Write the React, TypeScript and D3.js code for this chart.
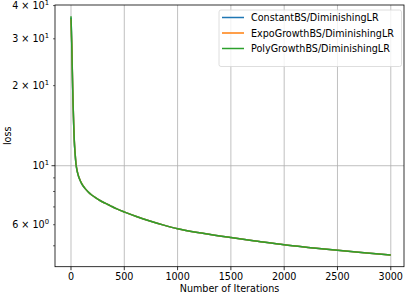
import React from "react";
import * as d3 from "d3";

const iterations = [0, 4, 8, 12, 16, 20, 25, 31, 38, 47, 59, 70, 84, 100, 131, 160, 194, 230, 272, 320, 366, 430, 504, 620, 740, 870, 1000, 1250, 1500, 1750, 2000, 2250, 2500, 2750, 3000];
const constantLoss = [36.0, 32.3, 27.8, 23.2, 19.6, 16.9, 14.4, 12.4, 11.2, 10.15, 9.5, 9.15, 8.84, 8.57, 8.22, 7.98, 7.76, 7.58, 7.40, 7.23, 7.08, 6.88, 6.69, 6.43, 6.20, 5.98, 5.79, 5.56, 5.37, 5.20, 5.04, 4.92, 4.81, 4.71, 4.62];
const expoLoss = [35.6, 31.0, 28.4, 23.6, 19.8, 17.0, 14.5, 12.5, 11.25, 10.18, 9.52, 9.16, 8.85, 8.58, 8.22, 7.98, 7.76, 7.58, 7.40, 7.23, 7.08, 6.88, 6.69, 6.43, 6.20, 5.98, 5.79, 5.56, 5.37, 5.20, 5.04, 4.92, 4.81, 4.71, 4.62];
const polyLoss = [36.5, 32.0, 27.5, 23.0, 19.5, 16.8, 14.4, 12.4, 11.2, 10.15, 9.5, 9.15, 8.84, 8.57, 8.22, 7.98, 7.76, 7.58, 7.40, 7.23, 7.08, 6.88, 6.69, 6.43, 6.20, 5.98, 5.79, 5.56, 5.37, 5.20, 5.04, 4.92, 4.81, 4.71, 4.62];

const seriesNames = ["ConstantBS/DiminishingLR", "ExpoGrowthBS/DiminishingLR", "PolyGrowthBS/DiminishingLR"];
const seriesColors = ["#1f77b4", "#ff7f0e", "#2ca02c"];
const seriesValues = [constantLoss, expoLoss, polyLoss];

const xTicks = [0, 500, 1000, 1500, 2000, 2500, 3000];
// [value, mantissa, exponent] ; mantissa null => plain 10^e
const yLabeled: [number, number | null, number][] = [
  [40, 4, 1],
  [30, 3, 1],
  [20, 2, 1],
  [10, null, 1],
  [6, 6, 0],
];
const yMinorOnly = [5, 7, 8, 9];

const W = 407;
const H = 295;
const left = 55;
const right = 404;
const top = 5;
const bottom = 266.7;
const font = "DejaVu Sans, sans-serif";
const fs = 9.6;

export default function App() {
  const x = d3.scaleLinear().domain([-150, 3124]).range([left, right]);
  const y = d3.scaleLog().domain([4.172, 40.2]).range([bottom, top]);

  const line = d3
    .line<number>()
    .x((_, i) => x(iterations[i]))
    .y((d) => y(d))
    .curve(d3.curveMonotoneX);

  return (
    <div style={{ position: "fixed", left: 0, top: 0 }}>
      <svg width={W} height={H} style={{ display: "block", background: "#fff" }} fontFamily={font}>
        {/* grid */}
        {xTicks.map((t) => (
          <line key={"gx" + t} x1={x(t)} x2={x(t)} y1={top} y2={bottom} stroke="#b0b0b0" strokeWidth={0.8} />
        ))}
        <line x1={left} x2={right} y1={y(10)} y2={y(10)} stroke="#b0b0b0" strokeWidth={0.8} />

        {/* series */}
        {seriesValues.map((vals, k) => (
          <path key={k} d={line(vals) || ""} fill="none" stroke={seriesColors[k]} strokeWidth={1.5} strokeLinejoin="round" />
        ))}

        {/* frame */}
        <rect x={left} y={top} width={right - left} height={bottom - top} fill="none" stroke="#000" strokeWidth={0.8} />

        {/* x ticks */}
        {xTicks.map((t) => (
          <g key={"xt" + t}>
            <line x1={x(t)} x2={x(t)} y1={bottom} y2={bottom + 3.5} stroke="#000" strokeWidth={0.8} />
            <text x={x(t)} y={bottom + 13.5} textAnchor="middle" fontSize={fs} fill="#000">
              {t}
            </text>
          </g>
        ))}
        <text x={(left + right) / 2} y={H - 3} textAnchor="middle" fontSize={fs} fill="#000">
          Number of Iterations
        </text>

        {/* y ticks */}
        {yMinorOnly.map((v) => (
          <line key={"ym" + v} x1={left - 2} x2={left} y1={y(v)} y2={y(v)} stroke="#000" strokeWidth={0.6} />
        ))}
        {yLabeled.map(([v, m, e]) => (
          <g key={"yl" + v}>
            <line x1={left - (m === null ? 3.5 : 2)} x2={left} y1={y(v)} y2={y(v)} stroke="#000" strokeWidth={m === null ? 0.8 : 0.6} />
            <text x={left - 6} y={y(v) + 3.5} textAnchor="end" fontSize={fs} fill="#000">
              {m !== null ? `${m} × 10` : "10"}
              <tspan dy={-4} fontSize={6.8}>
                {e}
              </tspan>
            </text>
          </g>
        ))}
        <text transform={`translate(11,${(top + bottom) / 2}) rotate(-90)`} textAnchor="middle" fontSize={fs} fill="#000">
          loss
        </text>

        {/* legend */}
        <rect x={219} y={10} width={182.5} height={56.5} rx={2} fill="#fff" fillOpacity={0.8} stroke="#d5d5d5" strokeWidth={0.8} />
        {seriesNames.map((name, k) => (
          <g key={name}>
            <line x1={222} x2={244} y1={17.5 + k * 15.5} y2={17.5 + k * 15.5} stroke={seriesColors[k]} strokeWidth={1.5} />
            <text x={251} y={17.5 + k * 15.5 + 3.5} fontSize={fs} fill="#000">
              {name}
            </text>
          </g>
        ))}
      </svg>
    </div>
  );
}
